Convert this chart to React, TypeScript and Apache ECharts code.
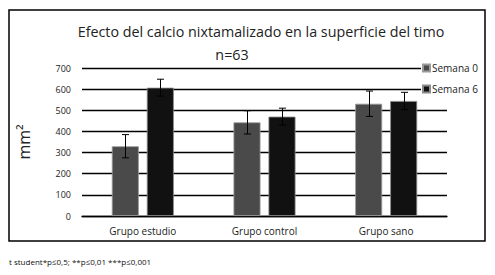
import React, { useEffect, useRef } from "react";
import * as echarts from "echarts";

const categories = ["Grupo estudio", "Grupo control", "Grupo sano"];
const seriesNames = ["Semana 0", "Semana 6"];
const semana0 = [330, 443, 531];
const semana6 = [607, 470, 544];
const err0 = [55, 55, 60];
const err6 = [40, 40, 41];
const titleText = "Efecto del calcio nixtamalizado en la superficie del timo";
const subtitleText = "n=63";
const yName = "mm²";
const footnote = "t student*p≤0,5; **p≤0,01 ***p≤0,001";

const FONT = "'Open Sans', 'DejaVu Sans', sans-serif";
const BAR_W = 27;
const GAP = 8;

function errorSeries(values: number[], errs: number[], offset: number) {
  return {
    type: "custom",
    z: 5,
    silent: true,
    data: values.map((v, i) => [i, v, errs[i]]),
    renderItem: (params: any, api: any) => {
      const i = api.value(0);
      const v = api.value(1);
      const e = api.value(2);
      const top = api.coord([i, v + e]);
      const bot = api.coord([i, v - e]);
      const x = Math.round(top[0] + offset) + 0.5;
      const cap = 3.5;
      const style = { stroke: "#000", lineWidth: 1 };
      return {
        type: "group",
        children: [
          { type: "line", shape: { x1: x, y1: top[1], x2: x, y2: bot[1] }, style },
          { type: "line", shape: { x1: x - cap, y1: top[1], x2: x + cap, y2: top[1] }, style },
          { type: "line", shape: { x1: x - cap, y1: bot[1], x2: x + cap, y2: bot[1] }, style },
        ],
      };
    },
  };
}

export default function App() {
  const ref = useRef<HTMLDivElement>(null);
  useEffect(() => {
    if (!ref.current) return;
    const chart = echarts.init(ref.current, undefined, { renderer: "svg" });
    const off = (BAR_W + GAP) / 2;
    chart.setOption({
      animation: false,
      backgroundColor: "#fff",
      textStyle: { fontFamily: FONT },
      grid: { left: 82, right: 48, top: 68, bottom: 59 },
      legend: {
        orient: "vertical",
        left: 421,
        top: 61,
        itemWidth: 7,
        itemHeight: 7,
        itemGap: 11,
        padding: [2, 2, 2, 1],
        backgroundColor: "#fff",
        icon: "rect",
        data: seriesNames,
        textStyle: { fontFamily: FONT, fontSize: 10, color: "#222", padding: [0, 0, 0, -3] },
      },
      xAxis: {
        type: "category",
        data: categories,
        axisLine: { show: true, lineStyle: { color: "#000", width: 1.3 } },
        axisTick: { show: false },
        axisLabel: { fontFamily: FONT, fontSize: 10, color: "#222", margin: 10 },
      },
      yAxis: {
        type: "value",
        min: 0,
        max: 700,
        interval: 100,
        name: yName,
        nameLocation: "middle",
        nameRotate: 90,
        nameGap: 50,
        nameTextStyle: { fontFamily: FONT, fontSize: 16, color: "#222" },
        axisLine: { show: false },
        axisTick: { show: false },
        axisLabel: { fontFamily: FONT, fontSize: 9, color: "#222", margin: 11 },
        splitLine: { show: true, lineStyle: { color: "#000", width: 1.3 } },
      },
      series: [
        {
          name: seriesNames[0],
          type: "bar",
          data: semana0,
          barWidth: BAR_W,
          barGap: `${(GAP / BAR_W) * 100}%`,
          itemStyle: { color: "#4a4a4a", borderColor: "#9a9a9a", borderWidth: 0.8 },
        },
        {
          name: seriesNames[1],
          type: "bar",
          data: semana6,
          barWidth: BAR_W,
          itemStyle: { color: "#111", borderColor: "#8a8a8a", borderWidth: 0.8 },
        },
        errorSeries(semana0, err0, -off),
        errorSeries(semana6, err6, off),
      ],
      graphic: [
        {
          type: "rect",
          shape: { x: 9, y: 10, width: 476, height: 231 },
          style: { fill: "none", stroke: "#000", lineWidth: 1.5 },
          z: -1,
        },
        {
          type: "text",
          x: 261,
          y: 31,
          style: {
            text: titleText,
            align: "center",
            verticalAlign: "middle",
            font: `14.3px ${FONT}`,
            fill: "#222",
          },
        },
        {
          type: "text",
          x: 232,
          y: 54,
          style: {
            text: subtitleText,
            align: "center",
            verticalAlign: "middle",
            font: `14.3px ${FONT}`,
            fill: "#222",
          },
        },
        {
          type: "text",
          x: 9,
          y: 261,
          style: {
            text: footnote,
            align: "left",
            verticalAlign: "middle",
            font: `8px ${FONT}`,
            fill: "#111",
          },
        },
      ],
    });
    return () => chart.dispose();
  }, []);
  return (
    <div
      ref={ref}
      style={{ position: "absolute", left: 0, top: 0, width: 495, height: 275 }}
    />
  );
}
